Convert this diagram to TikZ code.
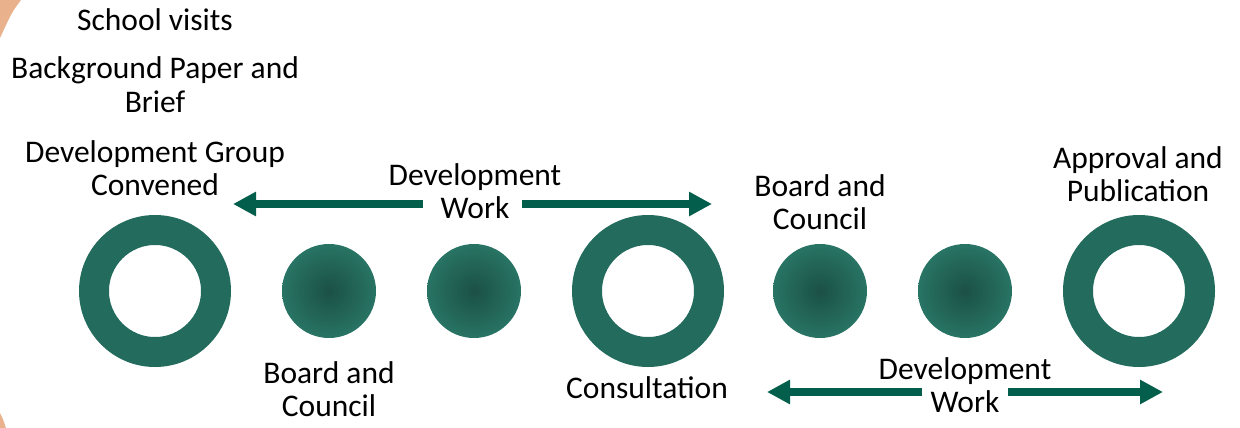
\documentclass[tikz,border=0pt]{standalone}
\usepackage{fontspec}
\setmainfont{Carlito}
\usetikzlibrary{arrows.meta}
\definecolor{ringcol}{HTML}{236B5D}
\definecolor{dotin}{HTML}{1B5046}
\definecolor{dotout}{HTML}{287464}
\definecolor{arrcol}{HTML}{045E4C}
\definecolor{peach}{HTML}{E9B28C}
\begin{document}
\begin{tikzpicture}[x=1pt,y=-1pt,
  ring/.style={circle,draw=ringcol,line width=30pt,minimum size=122pt,inner sep=0pt,outer sep=0pt},
  dot/.style={circle,minimum size=94pt,inner sep=0pt,outer sep=0pt,inner color=dotin,outer color=dotout},
  lbl/.style={font=\fontsize{31.5}{33}\selectfont,align=center,inner sep=0pt,anchor=base},
  devarrow/.style={draw=arrcol,line width=8pt,-{Triangle[length=23pt,width=23pt]}}]
\useasboundingbox (0,0) rectangle (1240,428);
% peach background fragments
\fill[peach] (0,0) -- (21,0) .. controls (12,12) .. (0,38) -- cycle;
\fill[peach] (0,413) .. controls (3,419) .. (6,428) -- (0,428) -- cycle;
% circles
\node[ring] (r1) at (155,291) {};
\node[dot] (d1) at (329,291) {};
\node[dot] (d2) at (474,291) {};
\node[ring] (r2) at (648,291) {};
\node[dot] (d3) at (820,291) {};
\node[dot] (d4) at (965,291) {};
\node[ring] (r3) at (1139,291) {};
% labels (base = baseline of last line)
\node[lbl] (t1) at (155,31) {School visits};
\node[lbl] (t2) at (155,112) {Background Paper and\\Brief};
\node[lbl] (t3) at (155,195) {Development Group\\Convened};
\node[lbl] (t4) at (475,218) {Development\\Work};
\node[lbl] (t5) at (820,229) {Board and\\Council};
\node[lbl] (t6) at (1138,201) {Approval and\\Publication};
\node[lbl] (t7) at (329,416) {Board and\\Council};
\node[lbl] (t8) at (647,398) {Consultation};
\node[lbl] (t9) at (965,412) {Development\\Work};
% arrows
\coordinate (a1l) at (233,204);
\coordinate (a1g) at (423,204);
\coordinate (a1h) at (522,204);
\coordinate (a1r) at (712,204);
\draw[devarrow] (a1g) -- (a1l);
\draw[devarrow] (a1h) -- (a1r);
\coordinate (a2l) at (767,392);
\coordinate (a2g) at (922,392);
\coordinate (a2h) at (1008,392);
\coordinate (a2r) at (1163,392);
\draw[devarrow] (a2g) -- (a2l);
\draw[devarrow] (a2h) -- (a2r);
\end{tikzpicture}
\end{document}
